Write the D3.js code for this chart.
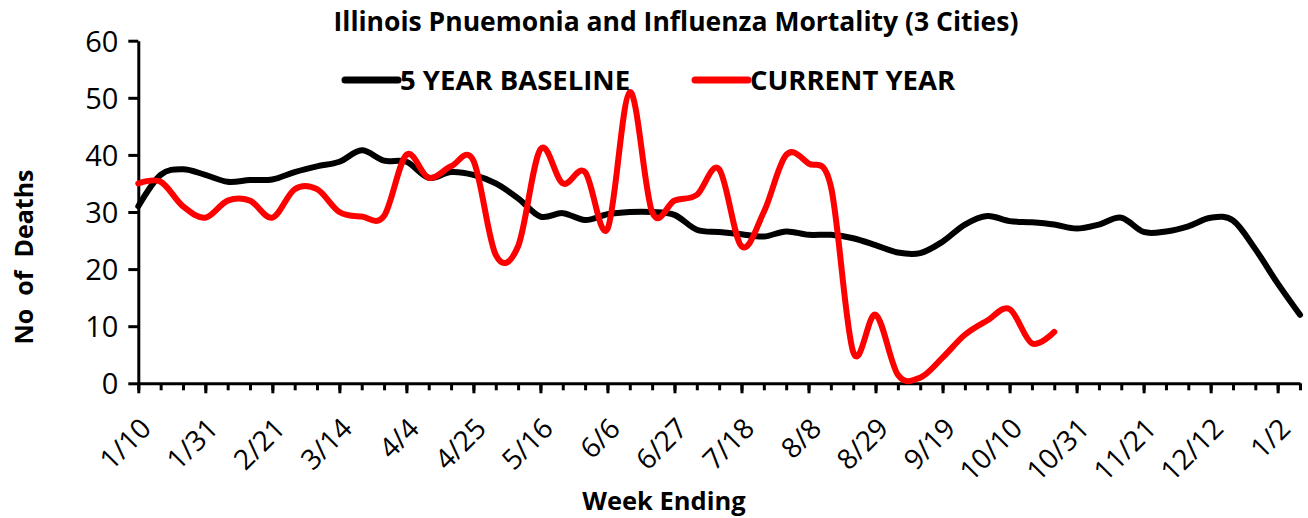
<!DOCTYPE html>
<html>
<head>
<meta charset="utf-8">
<script src="https://cdn.jsdelivr.net/npm/d3@7"></script>
<style>
  body { margin: 0; background: #fff; }
  svg { display: block; font-family: "Open Sans", sans-serif; }
</style>
</head>
<body>
<div id="chart"></div>
<script>
// week-ending dates (tick labels shown every 3rd week)
const weeks = ["1/10","1/17","1/24","1/31","2/7","2/14","2/21","2/28","3/7","3/14","3/21","3/28",
  "4/4","4/11","4/18","4/25","5/2","5/9","5/16","5/23","5/30","6/6","6/13","6/20","6/27","7/4",
  "7/11","7/18","7/25","8/1","8/8","8/15","8/22","8/29","9/5","9/12","9/19","9/26","10/3","10/10",
  "10/17","10/24","10/31","11/7","11/14","11/21","11/28","12/5","12/12","12/19","12/26","1/2","1/9"];

const baseline = [31,36.5,37.5,36.5,35.3,35.6,35.7,37,38,38.8,40.8,39,38.8,36,37,36.5,35,32.4,
  29.2,29.8,28.6,29.6,30,30,29.5,26.9,26.5,26.1,25.7,26.6,26,26,25.4,24.2,22.9,22.8,24.8,27.8,
  29.3,28.4,28.2,27.8,27.1,27.8,29,26.5,26.6,27.5,29,28.5,23.5,17.5,12];

const current = [35,35.3,31,29,32,32,29,34,34,30,29.2,29.3,40,36,38,39,22.5,24,41,35,37,27,51,
  30,32,33,37.5,24,30,40,38.5,34.5,5.5,12,1.5,1,4.5,8.5,11,13,7,9];

const yTicks = [0,10,20,30,40,50,60];
const seriesNames = ["5 YEAR BASELINE", "CURRENT YEAR"];
const seriesColors = ["#000000", "#ff0000"];

const W = 1308, H = 518;
const margin = { top: 40.7, right: 8, bottom: 134.7, left: 138.3 };

const svg = d3.select("#chart").append("svg")
  .attr("width", W)
  .attr("height", H);

const x = d3.scalePoint()
  .domain(weeks)
  .range([margin.left, W - margin.right]);

const y = d3.scaleLinear()
  .domain([0, 60])
  .range([H - margin.bottom, margin.top]);

// title
svg.append("text")
  .attr("x", 676)
  .attr("y", 31)
  .attr("text-anchor", "middle")
  .style("font-weight", "bold")
  .style("font-size", "26.5px")
  .text("Illinois Pnuemonia and Influenza Mortality (3 Cities)");

// y axis
const yAxis = svg.append("g")
  .attr("transform", `translate(${margin.left},0)`)
  .call(d3.axisLeft(y).tickValues(yTicks).tickSize(10).tickSizeOuter(0));
yAxis.select(".domain").attr("stroke-width", 3);
yAxis.selectAll(".tick line").attr("stroke-width", 3);
yAxis.selectAll(".tick text")
  .attr("x", -20)
  .attr("dy", "0.36em")
  .style("font-size", "29px")
  .style("font-family", "Open Sans")
  .attr("fill", "#000");

// x axis: minor tick every week
const xMinor = svg.append("g")
  .attr("transform", `translate(0,${y(0)})`)
  .call(d3.axisBottom(x).tickSize(7).tickFormat("").tickSizeOuter(0));
xMinor.select(".domain").attr("stroke-width", 3);
xMinor.selectAll(".tick line").attr("stroke-width", 3);

// major ticks with labels
const labelled = weeks.filter((d, i) => i % 3 === 0 && i < 52);
const xMajor = svg.append("g")
  .attr("transform", `translate(0,${y(0)})`)
  .call(d3.axisBottom(x).tickValues(labelled).tickSize(10).tickSizeOuter(0));
xMajor.select(".domain").remove();
xMajor.selectAll(".tick line").attr("stroke-width", 3);
xMajor.selectAll(".tick text")
  .attr("y", 0)
  .attr("dy", 0)
  .attr("text-anchor", "end")
  .attr("transform", "translate(14,47) rotate(-45)")
  .style("font-size", "28px")
  .style("font-family", "Open Sans")
  .attr("fill", "#000");

// axis titles
svg.append("text")
  .attr("transform", `translate(33,257) rotate(-90)`)
  .attr("text-anchor", "middle")
  .style("font-weight", "bold")
  .style("font-size", "25px")
  .style("white-space", "pre")
  .text("No  of  Deaths");

svg.append("text")
  .attr("x", 664)
  .attr("y", 510)
  .attr("text-anchor", "middle")
  .style("font-weight", "bold")
  .style("font-size", "25.5px")
  .text("Week Ending");

// lines
const line = d3.line()
  .x((d, i) => x(weeks[i]))
  .y(d => y(d))
  .curve(d3.curveCardinal.tension(0));

svg.append("path")
  .datum(baseline)
  .attr("fill", "none")
  .attr("stroke", seriesColors[0])
  .attr("stroke-width", 6)
  .attr("stroke-linecap", "round")
  .attr("stroke-linejoin", "round")
  .attr("d", line);

svg.append("path")
  .datum(current)
  .attr("fill", "none")
  .attr("stroke", seriesColors[1])
  .attr("stroke-width", 6)
  .attr("stroke-linecap", "round")
  .attr("stroke-linejoin", "round")
  .attr("d", line);

// legend
const legendX = [345, 695];
const legend = svg.append("g");
seriesNames.forEach((name, i) => {
  legend.append("line")
    .attr("x1", legendX[i]).attr("x2", legendX[i] + 53)
    .attr("y1", 80).attr("y2", 80)
    .attr("stroke", seriesColors[i])
    .attr("stroke-width", 7)
    .attr("stroke-linecap", "round");
  legend.append("text")
    .attr("x", legendX[i] + 55)
    .attr("y", 90)
    .style("font-weight", "bold")
    .style("font-size", "27.5px")
    .text(name);
});
</script>
</body>
</html>
